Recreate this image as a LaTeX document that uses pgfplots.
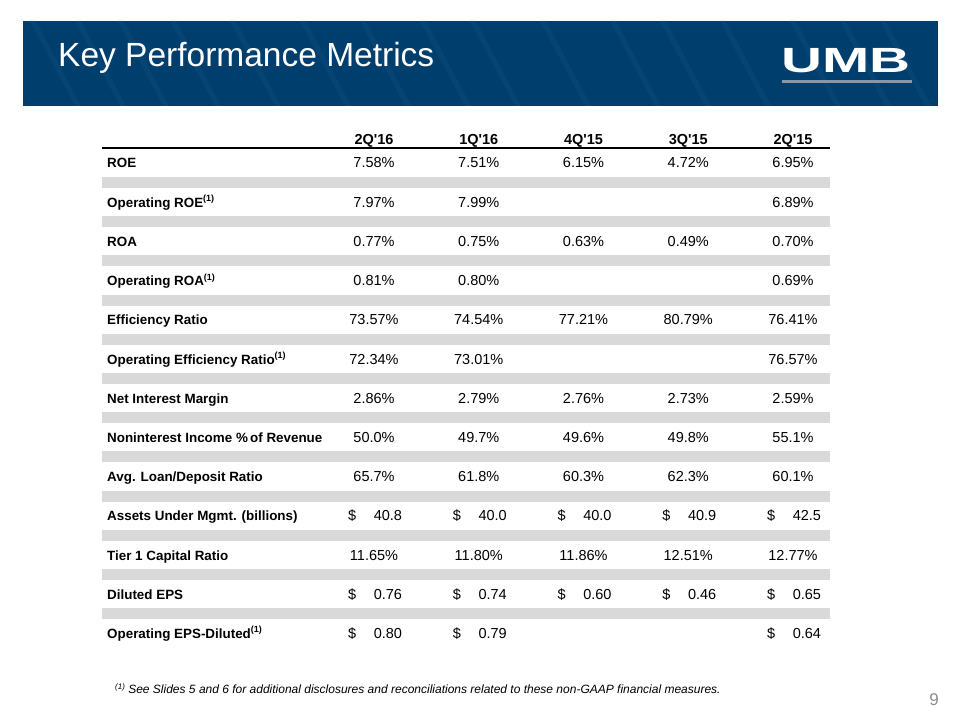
\documentclass[border=0pt]{standalone}
\usepackage{graphicx}
\usepackage{pgfplots}
\pgfplotsset{compat=1.18}
\usepackage{pgfplotstable}
\usepackage{fontspec}
\setmainfont{Liberation Sans}[Ligatures=TeXOff]
\definecolor{umbblue}{RGB}{0,62,110}
\definecolor{umbstripe}{RGB}{14,76,124}
\definecolor{rowgray}{RGB}{217,217,217}
\definecolor{logogray}{RGB}{140,150,162}
\definecolor{pagegray}{RGB}{140,140,140}

% percentage values: col (0 = 2Q'16 ... 4 = 2Q'15), row, value
\pgfplotstableread{
col row val
0 0 7.58
1 0 7.51
2 0 6.15
3 0 4.72
4 0 6.95
0 1 7.97
1 1 7.99
4 1 6.89
0 2 0.77
1 2 0.75
2 2 0.63
3 2 0.49
4 2 0.70
0 3 0.81
1 3 0.80
4 3 0.69
0 4 73.57
1 4 74.54
2 4 77.21
3 4 80.79
4 4 76.41
0 5 72.34
1 5 73.01
4 5 76.57
0 6 2.86
1 6 2.79
2 6 2.76
3 6 2.73
4 6 2.59
0 7 50.0
1 7 49.7
2 7 49.6
3 7 49.8
4 7 55.1
0 8 65.7
1 8 61.8
2 8 60.3
3 8 62.3
4 8 60.1
0 10 11.65
1 10 11.80
2 10 11.86
3 10 12.51
4 10 12.77
}\pcttable

% dollar values
\pgfplotstableread{
col row val
0 9 40.8
1 9 40.0
2 9 40.0
3 9 40.9
4 9 42.5
0 11 0.76
1 11 0.74
2 11 0.60
3 11 0.46
4 11 0.65
0 12 0.80
1 12 0.79
4 12 0.64
}\dollartable

\newcommand{\fnmark}{\raisebox{5.5bp}{\fontsize{9bp}{9bp}\selectfont (1)}}
\newcommand{\rowlab}[2]{\node[anchor=base west, inner sep=0pt, font=\fontsize{13.4bp}{15bp}\bfseries\selectfont]
    at (axis cs:107,{168+39.2*#1}) {#2};}
\newcommand{\colhead}[2]{\node[anchor=base, inner sep=0pt, font=\fontsize{14.5bp}{16bp}\bfseries\selectfont]
    at (axis cs:{374+104.75*#1},145) {#2};}

\begin{document}
\begin{tikzpicture}
\begin{axis}[
  scale only axis, width=960bp, height=720bp,
  xmin=0, xmax=960, ymin=0, ymax=720, y dir=reverse,
  hide axis, clip=false,
  every node near coord/.append style={anchor=base, inner sep=0pt,
     font=\fontsize{14.5bp}{16bp}\selectfont, text=black},
]
% page background
\fill[white] (axis cs:0,0) rectangle (axis cs:960,720);
% header band
\fill[umbblue] (axis cs:23,21) rectangle (axis cs:938,106);
\pgfplotsinvokeforeach{30,75,118,170,230,300,360,420,470,540,610,660,720,790,840,880}{
  \fill[umbstripe, opacity=0.45] (axis cs:#1,21) -- (axis cs:#1+6,21) -- (axis cs:#1+51,106) -- (axis cs:#1+45,106) -- cycle;
}
\node[anchor=base west, inner sep=0pt, text=white, font=\fontsize{33.5bp}{34bp}\selectfont]
  at (axis cs:58,67) {Key Performance Metrics};
\node[anchor=base west, inner sep=0pt, text=white, font=\fontsize{35bp}{35bp}\bfseries\selectfont]
  at (axis cs:781,72.5) {\scalebox{1.62}[1]{UMB}};
\fill[logogray] (axis cs:782,80) rectangle (axis cs:912,83.5);

% row stripes
\pgfplotsinvokeforeach{0,...,11}{
  \fill[rowgray] (axis cs:102,{177+39.2*#1}) rectangle (axis cs:830,{188+39.2*#1});
}
% header rule
\draw[black, line width=2.2bp] (axis cs:102,148) -- (axis cs:830,148);

% column headers
\colhead{0}{2Q'16}
\colhead{1}{1Q'16}
\colhead{2}{4Q'15}
\colhead{3}{3Q'15}
\colhead{4}{2Q'15}

% row labels
\rowlab{0}{ROE}
\rowlab{1}{Operating ROE\fnmark}
\rowlab{2}{ROA}
\rowlab{3}{Operating ROA\fnmark}
\rowlab{4}{Efficiency Ratio}
\rowlab{5}{Operating Efficiency Ratio\fnmark}
\rowlab{6}{Net Interest Margin}
\rowlab{7}{Noninterest Income \%\,of Revenue}
\rowlab{8}{Avg. Loan/Deposit Ratio}
\rowlab{9}{Assets Under Mgmt. (billions)}
\rowlab{10}{Tier 1 Capital Ratio}
\rowlab{11}{Diluted EPS}
\rowlab{12}{Operating EPS-Diluted\fnmark}

% percentage values
\addplot[draw=none, mark=none, forget plot, point meta=explicit symbolic,
  nodes near coords={\pgfplotspointmeta\%}]
  table[x expr={374+104.75*\thisrow{col}}, y expr={168+39.2*\thisrow{row}}, meta=val] {\pcttable};
% dollar values
\addplot[draw=none, mark=none, forget plot, point meta=explicit symbolic,
  nodes near coords={\makebox[54bp]{\$\hfill\pgfplotspointmeta}}]
  table[x expr={375+104.75*\thisrow{col}}, y expr={168+39.2*\thisrow{row}}, meta=val] {\dollartable};

% footnote
\node[anchor=base west, inner sep=0pt, font=\fontsize{12bp}{13bp}\itshape\selectfont]
  at (axis cs:115,693) {\raisebox{4bp}{\fontsize{8bp}{8bp}\selectfont(1)} See Slides 5 and 6 for additional disclosures and reconciliations related to these non-GAAP financial measures.};
% page number
\node[anchor=base, inner sep=0pt, text=pagegray, font=\fontsize{17bp}{17bp}\selectfont]
  at (axis cs:934,705) {9};
\end{axis}
\end{tikzpicture}
\end{document}
